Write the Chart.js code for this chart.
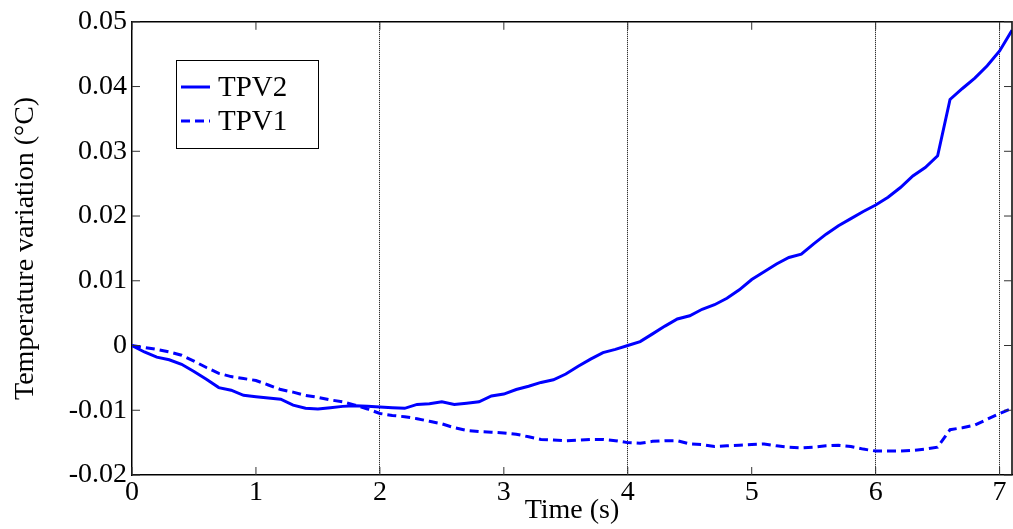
<!DOCTYPE html>
<html>
<head>
<meta charset="utf-8">
<script src="https://cdn.jsdelivr.net/npm/chart.js@4"></script>
<style>
  html, body { margin: 0; padding: 0; background: #fff; }
  #wrap { width: 1013px; height: 529px; }
</style>
</head>
<body>
<div id="wrap"><canvas id="tempChart" width="1013" height="529"></canvas></div>
<script>
// time samples (s)
const times = [
    0.0, 0.1, 0.2, 0.3, 0.4, 0.5, 0.6, 0.7, 0.8, 0.9,
    1.0, 1.1, 1.2, 1.3, 1.4, 1.5, 1.6, 1.7, 1.8, 1.9,
    2.0, 2.1, 2.2, 2.3, 2.4, 2.5, 2.6, 2.7, 2.8, 2.9,
    3.0, 3.1, 3.2, 3.3, 3.4, 3.5, 3.6, 3.7, 3.8, 3.9,
    4.0, 4.1, 4.2, 4.3, 4.4, 4.5, 4.6, 4.7, 4.8, 4.9,
    5.0, 5.1, 5.2, 5.3, 5.4, 5.5, 5.6, 5.7, 5.8, 5.9,
    6.0, 6.1, 6.2, 6.3, 6.4, 6.5, 6.6, 6.7, 6.8, 6.9,
    7.0, 7.1
];

const tpv2 = [
    0.0000, -0.0010, -0.0018, -0.0022, -0.0029, -0.0040, -0.0052, -0.0065, -0.0069, -0.0077,
    -0.0079, -0.0081, -0.0083, -0.0092, -0.0097, -0.0098, -0.0096, -0.0094, -0.0093, -0.0094,
    -0.0095, -0.0096, -0.0097, -0.0091, -0.0090, -0.0087, -0.0091, -0.0089, -0.0087, -0.0078,
    -0.0075, -0.0068, -0.0063, -0.0057, -0.0053, -0.0044, -0.0032, -0.0021, -0.0011, -0.0006,
    0.0000, 0.0006, 0.0018, 0.0030, 0.0041, 0.0046, 0.0056, 0.0063, 0.0073, 0.0086,
    0.0102, 0.0114, 0.0126, 0.0136, 0.0141, 0.0157, 0.0172, 0.0185, 0.0196, 0.0207,
    0.0217, 0.0229, 0.0244, 0.0262, 0.0275, 0.0293, 0.0380, 0.0397, 0.0413, 0.0432,
    0.0455, 0.0487
];

const tpv1 = [
    0.0000, -0.0003, -0.0006, -0.0010, -0.0015, -0.0024, -0.0034, -0.0043, -0.0048, -0.0051,
    -0.0054, -0.0061, -0.0068, -0.0072, -0.0077, -0.0080, -0.0084, -0.0087, -0.0092, -0.0098,
    -0.0105, -0.0108, -0.0110, -0.0113, -0.0117, -0.0121, -0.0127, -0.0131, -0.0133, -0.0134,
    -0.0135, -0.0137, -0.0141, -0.0145, -0.0146, -0.0147, -0.0146, -0.0145, -0.0145, -0.0147,
    -0.0150, -0.0151, -0.0148, -0.0147, -0.0147, -0.0152, -0.0153, -0.0156, -0.0155, -0.0154,
    -0.0153, -0.0152, -0.0155, -0.0157, -0.0158, -0.0157, -0.0155, -0.0154, -0.0156, -0.0160,
    -0.0163, -0.0163, -0.0163, -0.0162, -0.0160, -0.0157, -0.0130, -0.0127, -0.0123, -0.0114,
    -0.0105, -0.0097
];

const seriesNames = ['TPV2', 'TPV1'];
const gridTimes = [2, 4, 6, 7];

const FONT = 'Liberation Serif, "Times New Roman", serif';

function toPoints(ys) {
    return times.map((t, i) => ({ x: t, y: ys[i] }));
}

// frame, inward tick marks and the boxed legend
const framePlugin = {
    id: 'frame',
    afterDraw(chart) {
        const { ctx, chartArea: a, scales } = chart;
        ctx.save();
        ctx.strokeStyle = '#000';
        ctx.lineWidth = 1.5;
        ctx.beginPath();
        ctx.moveTo(a.left, a.top);
        ctx.lineTo(a.right, a.top);
        ctx.lineTo(a.right, a.bottom);
        ctx.stroke();

        ctx.lineWidth = 1;
        ctx.strokeStyle = '#333';
        const len = 8;
        scales.x.ticks.forEach(t => {
            const px = scales.x.getPixelForValue(t.value);
            ctx.beginPath();
            ctx.moveTo(px, a.bottom); ctx.lineTo(px, a.bottom - len);
            ctx.moveTo(px, a.top); ctx.lineTo(px, a.top + len);
            ctx.stroke();
        });
        scales.y.ticks.forEach(t => {
            const py = scales.y.getPixelForValue(t.value);
            ctx.beginPath();
            ctx.moveTo(a.left, py); ctx.lineTo(a.left + len, py);
            ctx.moveTo(a.right, py); ctx.lineTo(a.right - len, py);
            ctx.stroke();
        });

        // legend
        const bx = 176, by = 60, bw = 142, bh = 88;
        ctx.fillStyle = '#fff';
        ctx.fillRect(bx, by, bw, bh);
        ctx.strokeStyle = '#000';
        ctx.lineWidth = 1;
        ctx.strokeRect(bx + 0.5, by + 0.5, bw, bh);
        ctx.font = '29px ' + FONT;
        ctx.textBaseline = 'middle';
        chart.data.datasets.forEach((ds, i) => {
            const y = by + 27 + i * 34;
            ctx.strokeStyle = ds.borderColor;
            ctx.lineWidth = ds.borderWidth;
            ctx.setLineDash(ds.borderDash || []);
            ctx.beginPath();
            ctx.moveTo(bx + 5, y); ctx.lineTo(bx + 34, y);
            ctx.stroke();
            ctx.setLineDash([]);
            ctx.fillStyle = '#000';
            ctx.fillText(ds.label, bx + 42, y + 1);
        });
        ctx.restore();
    }
};

const ctx = document.getElementById('tempChart').getContext('2d');
const tempChart = new Chart(ctx, {
    type: 'line',
    data: {
        datasets: [
            {
                label: seriesNames[0],
                data: toPoints(tpv2),
                borderColor: '#0000ff',
                borderWidth: 3,
                pointRadius: 0,
                tension: 0,
                fill: false
            },
            {
                label: seriesNames[1],
                data: toPoints(tpv1),
                borderColor: '#0000ff',
                borderWidth: 3,
                borderDash: [9, 5],
                pointRadius: 0,
                tension: 0,
                fill: false
            }
        ]
    },
    options: {
        responsive: false,
        animation: false,
        devicePixelRatio: 1,
        layout: { padding: { top: 19, right: 1, left: 0, bottom: 0 } },
        plugins: {
            legend: { display: false },
            tooltip: { enabled: false }
        },
        scales: {
            x: {
                type: 'linear',
                min: 0,
                max: 7.1,
                afterFit: s => { s.height = 54; },
                afterBuildTicks: s => {
                    s.ticks = s.ticks.filter(t => Number.isInteger(t.value));
                },
                ticks: {
                    stepSize: 1,
                    includeBounds: false,
                    padding: 1,
                    color: '#000',
                    maxRotation: 0,
                    font: { family: FONT, size: 28 }
                },
                grid: {
                    drawTicks: false,
                    lineWidth: 1,
                    color: c => (c.tick && gridTimes.includes(c.tick.value)) ? '#000' : 'rgba(0,0,0,0)'
                },
                border: { display: true, color: '#000', width: 1.5, dash: [1, 1] },
                title: {
                    display: true,
                    text: 'Time (s)',
                    color: '#000',
                    font: { family: FONT, size: 28 },
                    padding: { top: 0, bottom: 2 }
                }
            },
            y: {
                min: -0.02,
                max: 0.05,
                afterFit: s => { s.width = 132; },
                ticks: {
                    stepSize: 0.01,
                    padding: 5,
                    color: '#000',
                    font: { family: FONT, size: 28 },
                    callback: v => Math.abs(v) < 1e-9 ? '0' : v.toFixed(2)
                },
                grid: { display: false, drawTicks: false },
                border: { display: true, color: '#000', width: 1.5 },
                title: {
                    display: true,
                    text: 'Temperature variation (°C)',
                    color: '#000',
                    font: { family: FONT, size: 28 },
                    padding: { top: 9, bottom: 0 }
                }
            }
        }
    },
    plugins: [framePlugin]
});
</script>
</body>
</html>
